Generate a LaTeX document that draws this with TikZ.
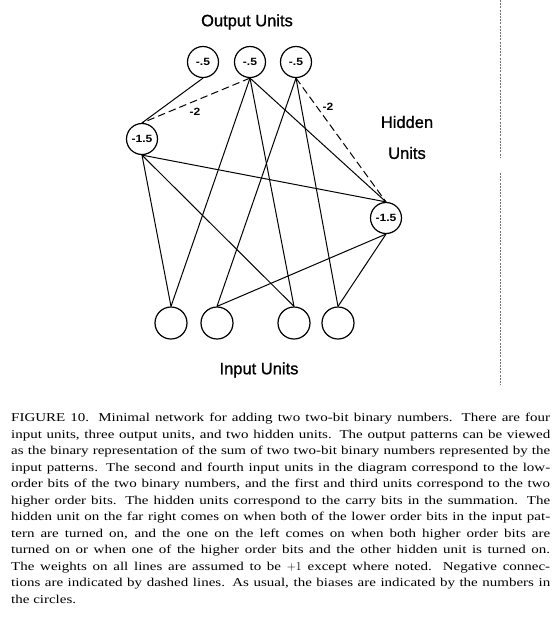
\documentclass[tikz,border=0pt]{standalone}
\usepackage{fontspec}
\setmainfont{Liberation Serif}
\newfontfamily\capfont[FakeStretch=1.25]{Liberation Serif}
\newfontfamily\labfont[FakeStretch=1.15]{Liberation Sans}
\newfontfamily\titfont[FakeBold=0.9]{Liberation Sans}
\begin{document}
\begin{tikzpicture}[x=1pt,y=-1pt,
  unit/.style={circle,draw,line width=1.2pt,minimum size=31pt,inner sep=0pt,
    font=\labfont\bfseries\fontsize{10.5}{11}\selectfont},
  conn/.style={line width=1pt},
  neg/.style={conn,dash pattern=on 7.5pt off 4pt},
  wlabel/.style={font=\labfont\bfseries\fontsize{10.5}{11}\selectfont,inner sep=0pt},
  title/.style={font=\titfont\fontsize{16.5}{18}\selectfont,inner sep=0pt},
  fold/.style={draw=black!55,line width=0.8pt,dash pattern=on 2pt off 1.2pt}]
\useasboundingbox (0,0) rectangle (557,625);
% units
\node[unit] (o1) at (203,62) {-.5};
\node[unit] (o2) at (250,62) {-.5};
\node[unit] (o3) at (296,62) {-.5};
\node[unit] (hL) at (142,139) {-1.5};
\node[unit] (hR) at (386,218) {-1.5};
\node[unit,minimum size=32pt] (i1) at (171,323) {};
\node[unit,minimum size=32pt] (i2) at (217,323) {};
\node[unit,minimum size=32pt] (i3) at (294,323) {};
\node[unit,minimum size=32pt] (i4) at (338,323) {};
% titles
\node[title] (tout) at (247,22) {Output Units};
\node[title] (thid) at (407,122) {Hidden};
\node[title] (thu) at (407,153) {Units};
\node[title] (tin) at (259,370) {Input Units};
% connections
\draw[conn] (o1.south) -- (hL.north);
\draw[neg] (o2.south) -- (hL.north);
\draw[conn] (o2.south) -- (i1.north);
\draw[conn] (o2.south) -- (i3.north);
\draw[conn] (o2.south) -- (hR.north);
\draw[conn] (o3.south) -- (i2.north);
\draw[conn] (o3.south) -- (i4.north);
\draw[neg] (o3.south) -- (hR.north);
\draw[conn] (hL.south) -- (hR.north);
\draw[conn] (hL.south) -- (i1.north);
\draw[conn] (hL.south) -- (i3.north);
\draw[conn] (hR.south) -- (i2.north);
\draw[conn] (hR.south) -- (i4.north);
% weight labels
\node[wlabel] (w1) at (195,112) {-2};
\node[wlabel] (w2) at (328,107) {-2};
% page fold line
\coordinate (f1) at (500,0);
\coordinate (f2) at (500,157);
\coordinate (f3) at (500,173);
\coordinate (f4) at (500,385);
\draw[fold] (f1) -- (f2);
\draw[fold] (f3) -- (f4);
% caption
\node[anchor=north west,inner sep=0pt,text width=539pt,align=justify,
  font=\capfont\fontsize{12}{16.5}\selectfont] (cap) at (11,413) {%
FIGURE 10.  Minimal network for adding two two-bit binary numbers. There are four\linebreak
input units, three output units, and two hidden units.  The output patterns can be viewed\linebreak
as the binary representation of the sum of two two-bit binary numbers represented by the\linebreak
input patterns.  The second and fourth input units in the diagram correspond to the low-\linebreak
order bits of the two binary numbers, and the first and third units correspond to the two\linebreak
higher order bits.  The hidden units correspond to the carry bits in the summation.  The\linebreak
hidden unit on the far right comes on when both of the lower order bits in the input pat-\linebreak
tern are turned on, and the one on the left comes on when both higher order bits are\linebreak
turned on or when one of the higher order bits and the other hidden unit is turned on.\linebreak
The weights on all lines are assumed to be $+1$ except where noted.  Negative connec-\linebreak
tions are indicated by dashed lines.  As usual, the biases are indicated by the numbers in\linebreak
the circles.};
\end{tikzpicture}
\end{document}
